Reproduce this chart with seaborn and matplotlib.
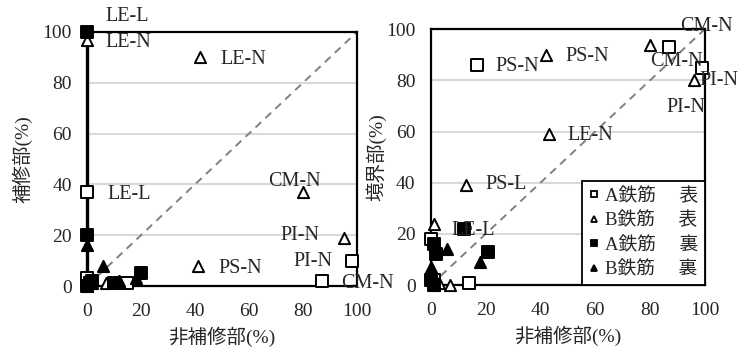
import matplotlib
matplotlib.use("Agg")
import matplotlib.pyplot as plt
import seaborn as sns
from matplotlib.lines import Line2D

sns.set_theme(style="white")
plt.rcParams['font.family'] = ['Liberation Serif', 'Noto Sans CJK JP']
plt.rcParams['axes.unicode_minus'] = False

# ---- data: left panel (補修部 vs 非補修部)
L_A_front_x = [0, 87, 98, 0, 1, 15]
L_A_front_y = [37, 2, 10, 3, 1, 1]
L_B_front_x = [0, 42, 80, 95, 41, 7, 12, 2]
L_B_front_y = [97, 90, 37, 19, 8, 1, 2, 1]
L_A_back_x = [0, 0, 20, 10, 0, 1, 2]
L_A_back_y = [100, 20, 5, 1, 0, 1, 2]
L_B_back_x = [0, 6, 18, 12, 0, 1]
L_B_back_y = [16, 8, 3, 2, 0, 2]
L_labels = ["LE-L", "LE-N", "LE-N", "LE-L", "CM-N", "PI-N", "PI-N", "PS-N", "CM-N"]
L_label_x = [7, 7, 49.5, 7.4, 67, 71.5, 76.5, 48.5, 94]
L_label_y = [106, 95.7, 89, 36, 41, 20, 9.5, 7, 1]

# ---- data: right panel (境界部 vs 非補修部)
R_A_front_x = [17, 87, 99, 14, 0, 1]
R_A_front_y = [86, 93, 85, 1, 18, 2]
R_B_front_x = [42, 80, 96, 43, 13, 1, 7, 3]
R_B_front_y = [90, 94, 80, 59, 39, 24, 0, 1]
R_A_back_x = [12, 21, 1, 2, 0, 1]
R_A_back_y = [22, 13, 16, 12, 2, 0]
R_B_back_x = [6, 18, 0, 0, 1]
R_B_back_y = [14, 9, 7, 3, 0]
R_labels = ["CM-N", "CM-N", "PI-N", "PI-N", "PS-N", "PS-N", "LE-N", "PS-L", "LE-L"]
R_label_x = [91, 80, 98, 86, 23.7, 49, 50, 20, 7.7]
R_label_y = [101, 87.5, 80, 69.5, 85.5, 89.5, 58.6, 39.4, 21.5]

ticks = [0, 20, 40, 60, 80, 100]
legend_labels = ["A鉄筋\u3000 表", "B鉄筋\u3000 表", "A鉄筋\u3000 裏", "B鉄筋\u3000 裏"]

fig = plt.figure(figsize=(7.48, 3.49), dpi=100)
axL = fig.add_axes([0.1163, 0.1805, 0.361, 0.728])
axR = fig.add_axes([0.576, 0.183, 0.366, 0.733])

FS_TICK = 14
FS_TXT = 14.5
FS_LAB = 14
MS = 65

def draw(ax, series, labels, lx, ly, ylabel, ylabelpad, left_lw):
    ax.set_xlim(0, 100)
    ax.set_ylim(0, 100)
    ax.set_xticks(ticks)
    ax.set_yticks(ticks)
    ax.yaxis.grid(True, color="#d9d9d9", lw=1.5)
    ax.xaxis.grid(False)
    ax.set_axisbelow(True)
    ax.plot([0, 100], [0, 100], ls=(0, (4, 3)), color="#808080", lw=1.4, zorder=1)
    for (xs, ys, mk, fc) in series:
        sns.scatterplot(x=xs, y=ys, ax=ax, marker=mk, s=MS, facecolor=fc,
                        edgecolor="black", linewidth=1.4, clip_on=False, zorder=3)
    for t, x, y in zip(labels, lx, ly):
        ax.text(x, y, t, ha="left", va="center", fontsize=FS_TXT, clip_on=False, zorder=4)
    for sp in ax.spines.values():
        sp.set_visible(True)
        sp.set_color("black")
        sp.set_linewidth(1.6)
    ax.spines["left"].set_linewidth(left_lw)
    ax.tick_params(axis="x", labelsize=FS_TICK, length=0, pad=12)
    ax.tick_params(axis="y", labelsize=FS_TICK, length=0, pad=11)
    ax.set_xlabel("非補修部(%)", fontsize=FS_LAB, labelpad=5)
    ax.set_ylabel(ylabel, fontsize=FS_LAB, labelpad=ylabelpad)

draw(axL, [(L_A_front_x, L_A_front_y, "s", "white"),
           (L_B_front_x, L_B_front_y, "^", "white"),
           (L_A_back_x, L_A_back_y, "s", "black"),
           (L_B_back_x, L_B_back_y, "^", "black")],
     L_labels, L_label_x, L_label_y, "補修部(%)", 7, 2.4)
draw(axR, [(R_A_front_x, R_A_front_y, "s", "white"),
           (R_B_front_x, R_B_front_y, "^", "white"),
           (R_A_back_x, R_A_back_y, "s", "black"),
           (R_B_back_x, R_B_back_y, "^", "black")],
     R_labels, R_label_x, R_label_y, "境界部(%)", 0, 1.6)

handles = [
    Line2D([], [], ls="none", marker="s", mfc="white", mec="black", ms=5, mew=1.3),
    Line2D([], [], ls="none", marker="^", mfc="white", mec="black", ms=5, mew=1.3),
    Line2D([], [], ls="none", marker="s", mfc="black", mec="black", ms=5, mew=1.3),
    Line2D([], [], ls="none", marker="^", mfc="black", mec="black", ms=5, mew=1.3),
]
leg = axR.legend(handles, legend_labels, loc="lower right", bbox_to_anchor=(1, 0),
                 borderaxespad=0, fancybox=False, frameon=True, edgecolor="black",
                 fontsize=13.5, handlelength=0.6, handletextpad=0.25, labelspacing=0.38,
                 borderpad=0.35)
leg.get_frame().set_linewidth(1.3)
leg.get_frame().set_alpha(1)

fig.savefig("out.png", dpi=100)
